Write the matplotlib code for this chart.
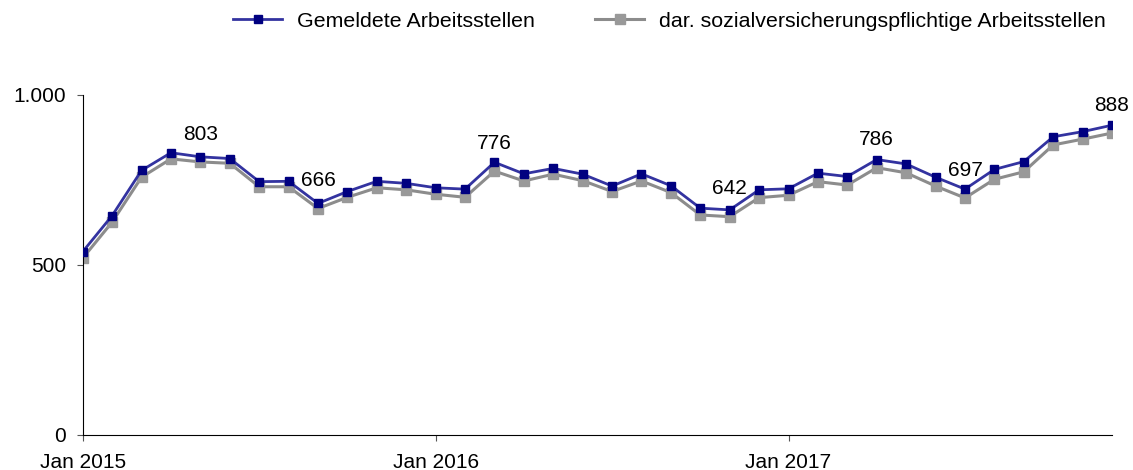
import matplotlib
matplotlib.use('Agg')
from matplotlib import pyplot as plt
import numpy as np

plt.rcParams['font.family'] = ['Liberation Sans', 'DejaVu Sans']

# Monate Jan 2015 - Dez 2017
monate = ['Jan 2015', 'Feb 2015', 'Mär 2015', 'Apr 2015', 'Mai 2015', 'Jun 2015',
          'Jul 2015', 'Aug 2015', 'Sep 2015', 'Okt 2015', 'Nov 2015', 'Dez 2015',
          'Jan 2016', 'Feb 2016', 'Mär 2016', 'Apr 2016', 'Mai 2016', 'Jun 2016',
          'Jul 2016', 'Aug 2016', 'Sep 2016', 'Okt 2016', 'Nov 2016', 'Dez 2016',
          'Jan 2017', 'Feb 2017', 'Mär 2017', 'Apr 2017', 'Mai 2017', 'Jun 2017',
          'Jul 2017', 'Aug 2017', 'Sep 2017', 'Okt 2017', 'Nov 2017', 'Dez 2017']

gemeldet = [539, 645, 778, 830, 818, 813, 745, 746, 681, 716, 746, 740,
            727, 723, 802, 768, 784, 767, 732, 768, 733, 667, 662, 721,
            724, 770, 760, 810, 797, 758, 723, 781, 804, 877, 892, 911]
svpflichtig = [520, 626, 758, 812, 803, 799, 730, 730, 666, 699, 727, 721,
               708, 699, 776, 747, 767, 748, 716, 747, 713, 647, 642, 698,
               705, 745, 735, 786, 771, 732, 697, 752, 774, 853, 870, 888]

# Monate mit Wertbeschriftung (Index)
beschriftet = [4, 8, 14, 22, 27, 30, 35]

xticks = [0, 12, 24]
xticklabels = ['Jan 2015', 'Jan 2016', 'Jan 2017']
yticks = [0, 500, 1000]
yticklabels = ['0', '500', '1.000']

fs = 15

fig = plt.figure(figsize=(11.33, 4.70), dpi=100)
ax = fig.add_axes([0.073, 0.0745, 0.9085, 0.7235])

x = np.arange(len(monate))
ax.plot(x, svpflichtig, color='#8c8c8c', lw=2.2, marker='s', markersize=7,
        markerfacecolor='#999999', markeredgecolor='#999999',
        label='dar. sozialversicherungspflichtige Arbeitsstellen', zorder=2)
ax.plot(x, gemeldet, color='#3333a0', lw=2.0, marker='s', markersize=6,
        markerfacecolor='#000080', markeredgecolor='#000080',
        label='Gemeldete Arbeitsstellen', zorder=3)

for i in beschriftet:
    ax.annotate(str(svpflichtig[i]), (x[i], svpflichtig[i]), xytext=(0, 20),
                textcoords='offset points', ha='center', va='center', fontsize=fs)

ax.set_xlim(0, len(monate) - 1)
ax.set_ylim(0, 1000)
ax.set_xticks(xticks)
ax.set_xticklabels(xticklabels, fontsize=fs)
ax.set_yticks(yticks)
ax.set_yticklabels(yticklabels, fontsize=fs)
ax.tick_params(direction='out', length=4, width=0.8, color='#555555')
ax.tick_params(axis='y', pad=8)
ax.tick_params(axis='x', pad=9)
ax.spines['top'].set_visible(False)
ax.spines['right'].set_visible(False)

h, l = ax.get_legend_handles_labels()
fig.legend(h[::-1], l[::-1], loc='center', bbox_to_anchor=(0.591, 0.955), ncol=2,
           frameon=False, fontsize=15.4, handlelength=2.3, handletextpad=0.7,
           columnspacing=2.8)

fig.savefig('out.png', dpi=100)
